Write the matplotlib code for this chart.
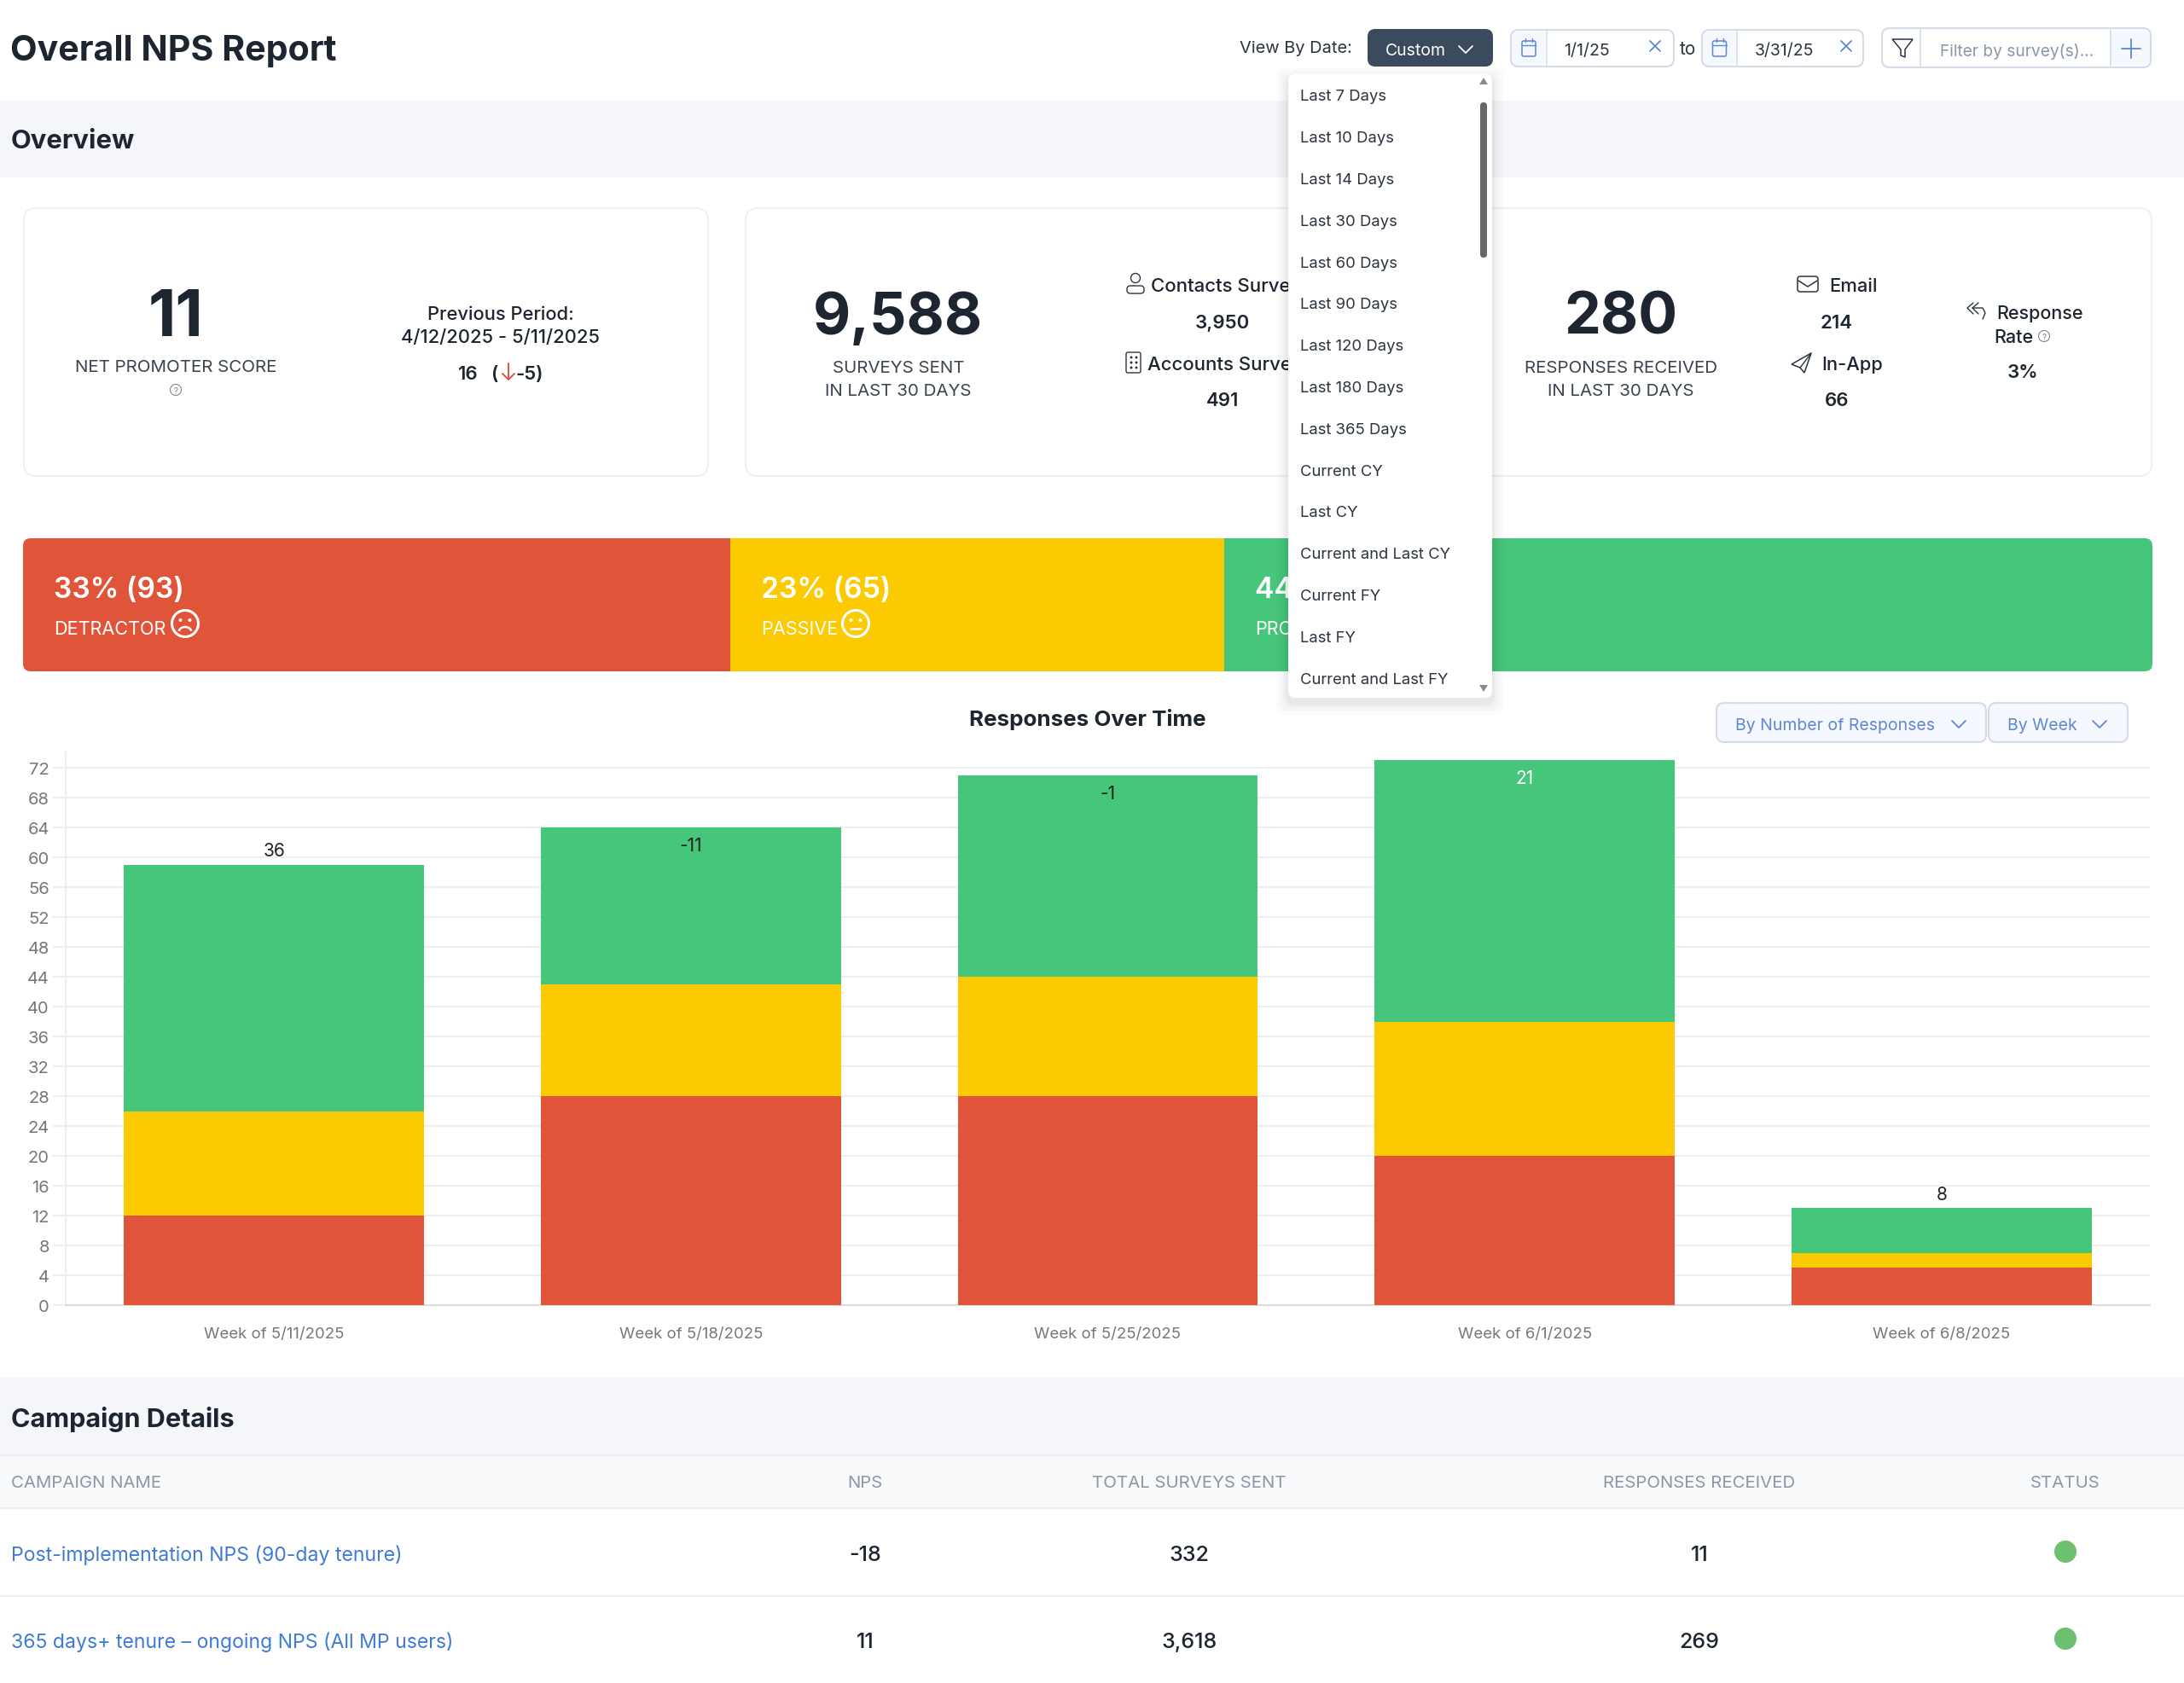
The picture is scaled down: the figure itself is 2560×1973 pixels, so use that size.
import matplotlib
matplotlib.use("Agg")
import matplotlib.pyplot as plt
from matplotlib.patches import Arc, Circle, FancyBboxPatch, Polygon, Rectangle

plt.rcParams['font.family'] = ['Inter', 'DejaVu Sans']

W, H = 2560, 1974

# chart data
weeks = ["Week of 5/11/2025", "Week of 5/18/2025", "Week of 5/25/2025", "Week of 6/1/2025", "Week of 6/8/2025"]
detractors = [12, 28, 28, 20, 5]
passives = [14, 15, 16, 18, 2]
promoters = [33, 21, 27, 35, 6]
week_nps = [36, -11, -1, 21, 8]
y_ticks = list(range(0, 73, 4))

# response split strip
split_counts = [93, 65, 122]
split_pcts = [33, 23, 44]
split_names = ["DETRACTOR", "PASSIVE", "PROMOTER"]

date_options = ["Last 7 Days", "Last 10 Days", "Last 14 Days", "Last 30 Days", "Last 60 Days", "Last 90 Days",
                "Last 120 Days", "Last 180 Days", "Last 365 Days", "Current CY", "Last CY", "Current and Last CY",
                "Current FY", "Last FY", "Current and Last FY"]

table_headers = ["CAMPAIGN NAME", "NPS", "TOTAL SURVEYS SENT", "RESPONSES RECEIVED", "STATUS"]
campaigns = ["Post-implementation NPS (90-day tenure)", "365 days+ tenure – ongoing NPS (All MP users)"]
campaign_nps = ["-18", "11"]
campaign_sent = ["332", "3,618"]
campaign_received = ["11", "269"]

RED = "#e05539"
YELLOW = "#fbca00"
GREEN = "#46c67b"
DARK = "#1c2530"
GREY = "#777777"
BLUE = "#5f86d6"
LINE = "#eeeeee"
BORDER = "#d3dce7"


def axes_px(left, top, right, bottom, **kw):
    return fig.add_axes([left / W, 1 - bottom / H, (right - left) / W, (bottom - top) / H], **kw)


fig = plt.figure(figsize=(W / 100, H / 100), dpi=100, facecolor="white")

# stacked bars
chart = axes_px(77, 883, 2520, 1531, zorder=0)
bottoms = [d + p for d, p in zip(detractors, passives)]
totals = [b + p for b, p in zip(bottoms, promoters)]
xs = list(range(len(weeks)))
chart.bar(xs, detractors, width=0.72, color=RED, zorder=3)
chart.bar(xs, passives, width=0.72, bottom=detractors, color=YELLOW, zorder=3)
chart.bar(xs, promoters, width=0.72, bottom=bottoms, color=GREEN, zorder=3)
chart.set_xlim(-0.5, 4.5)
chart.set_ylim(0, 74.06)
chart.set_yticks(y_ticks)
chart.set_xticks(xs, weeks)
chart.grid(axis="y", color=LINE, lw=1.5, zorder=0)
chart.tick_params(axis="y", length=10.8, width=1.5, color=LINE, labelsize=14.5, labelcolor=GREY, pad=3)
chart.tick_params(axis="x", length=0, labelsize=13.4, labelcolor=GREY, pad=18)
for side in ["top", "right"]:
    chart.spines[side].set_visible(False)
chart.spines["left"].set_color(LINE)
chart.spines["left"].set_linewidth(1.5)
chart.spines["bottom"].set_color("#dddddd")
chart.spines["bottom"].set_linewidth(1.5)
for x, total, nps in zip(xs, totals, week_nps):
    inside = total > 60
    chart.annotate(str(nps), (x, total), xytext=(0, -15 if inside else 12), textcoords="offset points",
                   ha="center", va="center", fontsize=15, zorder=5,
                   color="white" if inside and nps > 0 else "#222222")

# split strip
strip = axes_px(27, 632, 2523, 788, zorder=0)
strip.axis("off")
strip.set_xlim(0, sum(split_counts))
strip.set_ylim(0, 1)
left = 0
split_lefts = []
strip_bars = []
for count, color in zip(split_counts, [RED, YELLOW, GREEN]):
    strip_bars += list(strip.barh(0.5, count, height=1, left=left, color=color))
    split_lefts.append(left)
    left += count

# everything else sits on a transparent axes measured in pixels
ax = fig.add_axes([0, 0, 1, 1], zorder=1)
ax.set_xlim(0, W)
ax.set_ylim(H, 0)
ax.axis("off")
ax.patch.set_visible(False)


def txt(x, y, s, size=15, color=DARK, ha="left", weight="normal", z=3):
    return ax.text(x, y, s, fontsize=size, color=color, ha=ha, va="center_baseline", fontweight=weight, zorder=z)


def box(x0, y0, x1, y1, r=8, fc="white", ec="none", lw=1.5, z=2, alpha=None):
    p = FancyBboxPatch((x0 + r, y0 + r), x1 - x0 - 2 * r, y1 - y0 - 2 * r, boxstyle=f"round,pad={r},rounding_size={r}",
                       fc=fc, ec=ec, lw=lw, zorder=z, alpha=alpha)
    ax.add_patch(p)
    return p


def rect(x0, y0, x1, y1, color, z=1):
    ax.add_patch(Rectangle((x0, y0), x1 - x0, y1 - y0, fc=color, ec="none", zorder=z))


def line(xs_, ys_, color=DARK, lw=1.4, z=4):
    ax.plot(xs_, ys_, color=color, lw=lw, zorder=z, solid_capstyle="round", solid_joinstyle="round")


def chevron(x, y, color="white", s=8):
    line([x - s, x, x + s], [y - s / 2, y + s / 2, y - s / 2], color, 1.3)


def cross(x, y, s=6):
    line([x - s, x + s], [y - s, y + s], BLUE, 1.3)
    line([x - s, x + s], [y + s, y - s], BLUE, 1.3)


def calendar(x, y):
    box(x - 8, y - 8, x + 8, y + 10, r=2, fc="none", ec=BLUE, lw=1.1, z=4)
    line([x - 8, x + 8], [y - 3, y - 3], BLUE, 1.0)
    line([x - 4, x - 4], [y - 11, y - 7], BLUE, 1.0)
    line([x + 4, x + 4], [y - 11, y - 7], BLUE, 1.0)


def help_icon(x, y):
    ax.add_patch(Circle((x, y), 6.5, fc="none", ec="#7d8894", lw=0.8, zorder=4))
    txt(x, y, "?", 7, "#7d8894", "center")


def face(x, y, frown):
    ax.add_patch(Circle((x, y), 15.5, fc="none", ec="white", lw=2.2, zorder=4))
    ax.add_patch(Circle((x - 5.5, y - 4), 2, fc="white", ec="none", zorder=4))
    ax.add_patch(Circle((x + 5.5, y - 4), 2, fc="white", ec="none", zorder=4))
    if frown:
        ax.add_patch(Arc((x, y + 10), 15, 12, theta1=190, theta2=350, color="white", lw=1.8, zorder=4))
    else:
        line([x - 6, x + 6], [y + 6, y + 6], "white", 1.8)


# header
txt(12, 56, "Overall NPS Report", 29.6, weight="bold")
txt(1453, 55, "View By Date:", 14.4, "#2b3440")
box(1603, 35, 1750, 79, r=9, fc="#3b4a5c")
txt(1659, 58, "Custom", 14, "white", "center")
chevron(1718, 59)

for x0, x1, x_div, x_lab, x_cross, label in [(1771, 1962, 1813, 1860, 1940, "1/1/25"), (1995, 2184, 2036, 2092, 2164, "3/31/25")]:
    box(x0, 36, x1, 79, r=9, fc="white", ec=BORDER)
    box(x0 + 1, 37, x_div, 78, r=8, fc="#f5f8fd", z=2)
    line([x_div, x_div], [37, 78], BORDER, 1.1)
    calendar((x0 + x_div) / 2, 57)
    txt(x_lab, 58, label, 14, "#2b3440", "center")
    cross(x_cross, 55)
txt(1978, 56, "to", 15, "#2b3440", "center")

box(2206, 34, 2521, 80, r=9, fc="white", ec=BORDER)
box(2475, 35, 2520, 79, r=8, fc="#f5f8fd", z=2)
line([2251, 2251], [35, 79], BORDER, 1.1)
line([2474, 2474], [35, 79], BORDER, 1.1)
ax.add_patch(Polygon([(2218, 47), (2242, 47), (2233, 59), (2233, 68), (2228, 66), (2228, 59)], closed=True,
                     fc="none", ec="#2b3440", lw=1.1, zorder=4))
txt(2364, 58, "Filter by survey(s)...", 13.8, "#8a97a8", "center")
line([2487, 2509], [58, 58], BLUE, 1.3)
line([2498, 2498], [47, 69], BLUE, 1.3)

# overview band and cards
rect(0, 119, W, 209, "#f4f6fa")
txt(13, 163, "Overview", 22.3, weight="bold")
box(28, 245, 830, 559, r=14, ec="#eef1f3")
box(874, 245, 2522, 559, r=14, ec="#eef1f3")

txt(206, 366, "11", 54, ha="center", weight="bold")
txt(206, 429, "NET PROMOTER SCORE", 14.8, "#3a4450", "center")
help_icon(206, 458)
txt(587, 367, "Previous Period:", 15.8, ha="center", weight="medium")
txt(587, 394, "4/12/2025 - 5/11/2025", 15.8, ha="center", weight="medium")
txt(549, 437, "16", 16, ha="center", weight="semibold")
txt(580, 437, "(", 16, ha="center", weight="semibold")
line([596, 596], [427, 446], RED, 1.4)
line([589, 596, 603], [439, 446, 439], RED, 1.4)
txt(604, 437, "-5)", 16, weight="semibold")

txt(1053, 367, "9,588", 49, ha="center", weight="bold")
txt(1053, 430, "SURVEYS SENT", 14.8, "#3a4450", "center")
txt(1053, 457, "IN LAST 30 DAYS", 14.8, "#3a4450", "center")

# person icon
ax.add_patch(Circle((1331, 327), 5.5, fc="none", ec="#2b3440", lw=1.0, zorder=4))
box(1321, 336, 1341, 345, r=4, fc="none", ec="#2b3440", lw=1.0, z=4)
txt(1349, 334, "Contacts Surveyed", 16, weight="medium")
txt(1433, 377, "3,950", 16, ha="center", weight="semibold")
# building icon
box(1320, 414, 1337, 438, r=2, fc="none", ec="#2b3440", lw=1.0, z=4)
for dx in (1326, 1332):
    for dy in (420, 426, 432):
        ax.add_patch(Circle((dx, dy), 1.5, fc="#2b3440", ec="none", zorder=4))
txt(1345, 426, "Accounts Surveyed", 16, weight="medium")
txt(1433, 468, "491", 16, ha="center", weight="semibold")

txt(1900, 367, "280", 49, ha="center", weight="bold")
txt(1900, 430, "RESPONSES RECEIVED", 14.8, "#3a4450", "center")
txt(1900, 457, "IN LAST 30 DAYS", 14.8, "#3a4450", "center")

# envelope icon
box(2107, 325, 2131, 343, r=3, fc="none", ec="#2b3440", lw=1.1, z=4)
line([2108, 2119, 2130], [330, 337, 330], "#2b3440", 1.1)
txt(2144, 334, "Email", 15.8, weight="medium")
txt(2153, 377, "214", 16, ha="center", weight="semibold")
# paper plane icon
ax.add_patch(Polygon([(2123, 415), (2100, 428), (2110, 432), (2115, 438)], closed=True, fc="none", ec="#2b3440", lw=1.1, zorder=4))
line([2123, 2110], [415, 432], "#2b3440", 1.0)
txt(2135, 426, "In-App", 15.8, weight="medium")
txt(2153, 468, "66", 16, ha="center", weight="semibold")
# reply icon
line([2313, 2306, 2313], [356, 362, 369], "#2b3440", 1.0)
line([2319, 2312, 2319], [356, 362, 369], "#2b3440", 1.0)
line([2312, 2324, 2327, 2324], [362, 362, 368, 375], "#2b3440", 1.0)
txt(2340, 366, "Response", 15.5, weight="medium")
txt(2337, 394, "Rate", 15.5, weight="medium")
help_icon(2396, 395)
txt(2371, 435, "3%", 16, ha="center", weight="semibold")

# strip clip and labels
strip_clip = box(27, 632, 2523, 788, r=9, fc="none", z=0)
for bar in strip_bars:
    bar.set_clip_path(strip_clip)
strip_clip.set_visible(False)
strip_scale = (2523 - 27) / sum(split_counts)
for i in range(3):
    x0 = 27 + split_lefts[i] * strip_scale + 36
    txt(x0, 688, f"{split_pcts[i]}% ({split_counts[i]})", 24.2, "white", weight="semibold")
    txt(x0, 736, split_names[i], 15.6, "white")
face(217, 732, True)
face(1003, 732, False)

# chart header
txt(1275, 841, "Responses Over Time", 18.7, ha="center", weight="bold")
box(2012, 825, 2328, 871, r=9, fc="#f5f8fe", ec=BORDER)
box(2331, 825, 2494, 871, r=9, fc="#f5f8fe", ec=BORDER)
txt(2034, 849, "By Number of Responses", 14, BLUE)
txt(2353, 849, "By Week", 14, BLUE)
chevron(2296, 850, BLUE)
chevron(2461, 850, BLUE)

# table
rect(0, 1616, W, 1707, "#f4f6fa")
rect(0, 1707, W, 1769, "#f8f9fb")
for y in (1707, 1769, 1872):
    line([0, W], [y, y], LINE, 1.5, 2)
txt(13, 1661, "Campaign Details", 22, weight="bold")
for s, x, ha in zip(table_headers, [13, 1014, 1394, 1992, 2421], ["left"] + ["center"] * 4):
    txt(x, 1737, s, 14.7, "#8a97a5", ha)
for y, name, nps, sent, got in zip([1821, 1923], campaigns, campaign_nps, campaign_sent, campaign_received):
    txt(13, y, name, 16.6, "#3f7bd6")
    txt(1014, y, nps, 18, ha="center", weight="medium")
    txt(1394, y, sent, 18, ha="center", weight="medium")
    txt(1992, y, got, 18, ha="center", weight="medium")
    ax.add_patch(Circle((2421, y - 1), 13, fc="#6cc070", ec="none", zorder=3))

# date dropdown, over the cards and the strip
for grow, alpha in [(14, 0.015), (10, 0.02), (6, 0.025), (3, 0.03)]:
    box(1510 - grow, 88 - grow + 6, 1749 + grow, 819 + grow + 6, r=12, fc="black", z=9, alpha=alpha)
box(1510, 88, 1749, 819, r=8, fc="white", z=10)
for i, option in enumerate(date_options):
    txt(1524, 112 + 48.8 * i, option, 13.3, "#2b3440", z=11)
box(1735, 121, 1743, 303, r=4, fc="#686868", z=11)
ax.add_patch(Polygon([(1739, 92), (1734, 100), (1744, 100)], closed=True, fc="#8a8a8a", ec="none", zorder=11))
ax.add_patch(Polygon([(1739, 812), (1734, 804), (1744, 804)], closed=True, fc="#8a8a8a", ec="none", zorder=11))

fig.savefig("out.png", dpi=100)
